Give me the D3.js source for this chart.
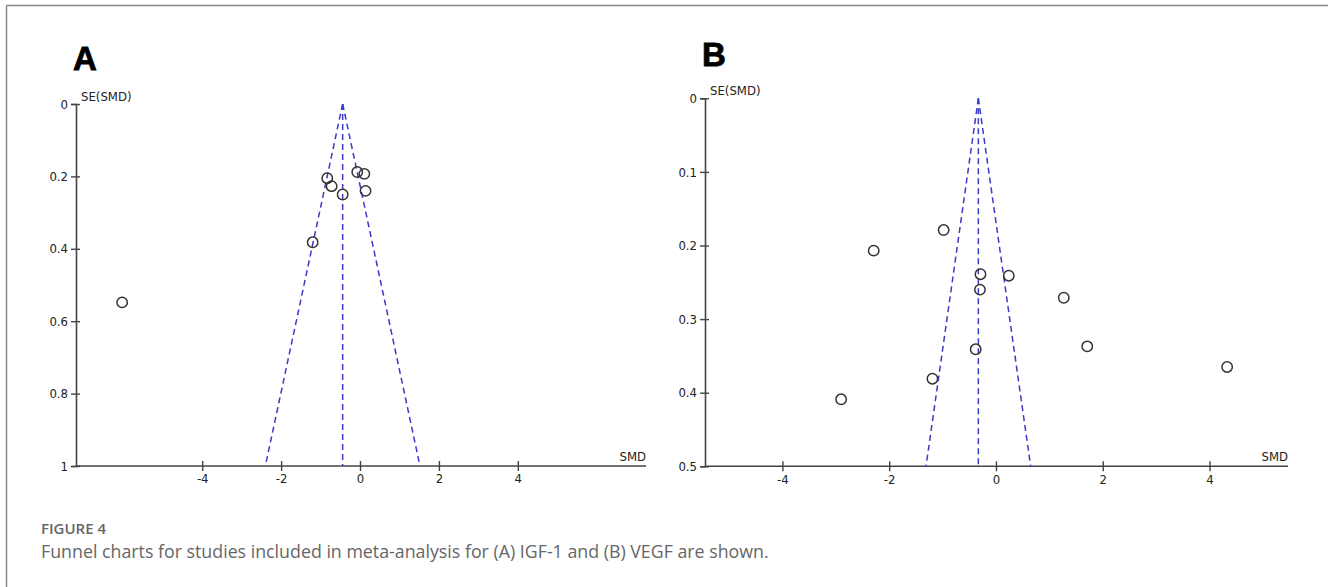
<!DOCTYPE html>
<html>
<head>
<meta charset="utf-8">
<script src="https://cdn.jsdelivr.net/npm/d3@7"></script>
<style>
  body { margin: 0; background: #fff; }
  svg text { font-family: "DejaVu Sans Condensed", "Open Sans", sans-serif; }
</style>
</head>
<body>
<svg id="fig" width="1328" height="587"></svg>
<script>
// Panel A (IGF-1)
const smdA = [-0.83, -0.72, -0.44, -0.07, 0.11, 0.14, -1.2, -6.03];
const seA  = [0.205, 0.227, 0.25, 0.188, 0.193, 0.24, 0.382, 0.548];
const pooledA = -0.44;
const xTicksA = [-4, -2, 0, 2, 4];
const yTicksA = [0, 0.2, 0.4, 0.6, 0.8, 1];

// Panel B (VEGF)
const smdB = [-0.98, -2.29, -0.29, 0.24, -0.30, 1.27, 1.71, -0.38, -1.19, -2.90, 4.33];
const seB  = [0.179, 0.207, 0.239, 0.241, 0.26, 0.271, 0.337, 0.341, 0.381, 0.409, 0.365];
const pooledB = -0.33;
const xTicksB = [-4, -2, 0, 2, 4];
const yTicksB = [0, 0.1, 0.2, 0.3, 0.4, 0.5];

const svg = d3.select("#fig");

// frame lines (top + left)
svg.append("line").attr("x1", 6.5).attr("y1", 5.5).attr("x2", 1328).attr("y2", 5.5)
  .attr("stroke", "#888").attr("stroke-width", 1.5);
svg.append("line").attr("x1", 6.5).attr("y1", 5.5).attr("x2", 6.5).attr("y2", 587)
  .attr("stroke", "#888").attr("stroke-width", 1.5);

function funnel(opt) {
  const x = d3.scaleLinear().domain(opt.xDomain).range([opt.left, opt.right]);
  const y = d3.scaleLinear().domain([0, opt.seMax]).range([opt.top, opt.bottom]);
  const g = svg.append("g");

  // panel letter
  g.append("text").attr("x", opt.letterX).attr("y", opt.letterY)
    .style("font-family", "'Liberation Sans', Arial, sans-serif")
    .style("font-weight", "bold").style("font-size", "33px")
    .attr("stroke", "#000").attr("stroke-width", 0.8)
    .text(opt.letter);

  // y axis
  const yAxis = g.append("g").attr("transform", `translate(${opt.left},0)`)
    .call(d3.axisLeft(y).tickValues(opt.yTicks).tickSize(5).tickPadding(3)
      .tickFormat(d3.format("~g")));
  yAxis.select(".domain").attr("stroke", "#444").attr("stroke-width", 1.6);
  yAxis.selectAll(".tick line").attr("x1", 4).attr("stroke", "#444").attr("stroke-width", 1.4);
  yAxis.selectAll(".tick text").style("font-size", "13px").attr("fill", "#222");

  // x axis
  const xAxis = g.append("g").attr("transform", `translate(0,${opt.bottom})`)
    .call(d3.axisBottom(x).tickValues(opt.xTicks).tickSize(5).tickPadding(3)
      .tickFormat(d => d < 0 ? "-" + Math.abs(d) : d));
  xAxis.select(".domain").attr("d", `M${opt.left},0H${opt.right}`)
    .attr("stroke", "#444").attr("stroke-width", 1.6);
  xAxis.selectAll(".tick line").attr("y1", -5).attr("stroke", "#444").attr("stroke-width", 1.4);
  xAxis.selectAll(".tick text").style("font-size", "13px").attr("fill", "#222");

  // axis titles
  g.append("text").attr("x", opt.left + 5).attr("y", opt.top - 3)
    .style("font-size", "13px").attr("fill", "#222").text("SE(SMD)");
  g.append("text").attr("x", opt.right).attr("y", opt.bottom - 5)
    .attr("text-anchor", "end").style("font-size", "13px").attr("fill", "#222").text("SMD");

  // funnel lines
  const dash = { stroke: "#3a3ac8", "stroke-width": 1.5, "stroke-dasharray": "6,4", fill: "none" };
  const lines = [
    [[opt.pooled, 0], [opt.pooled, opt.seMax]],
    [[opt.pooled, 0], [opt.pooled - 1.96 * opt.seMax, opt.seMax]],
    [[opt.pooled, 0], [opt.pooled + 1.96 * opt.seMax, opt.seMax]]
  ];
  const line = d3.line().x(d => x(d[0])).y(d => y(d[1]));
  lines.forEach(l => {
    const p = g.append("path").attr("d", line(l));
    Object.entries(dash).forEach(([k, v]) => p.attr(k, v));
  });

  // studies
  g.selectAll("circle.study").data(opt.smd).enter().append("circle")
    .attr("class", "study")
    .attr("cx", d => x(d))
    .attr("cy", (d, i) => y(opt.se[i]))
    .attr("r", 5.2)
    .attr("fill", "none").attr("stroke", "#333").attr("stroke-width", 1.5);
}

funnel({ letter: "A", letterX: 73, letterY: 70,
  smd: smdA, se: seA, pooled: pooledA, seMax: 1,
  xDomain: [-7.2, 7.25], xTicks: xTicksA, yTicks: yTicksA,
  left: 76, right: 646, top: 104, bottom: 466 });

funnel({ letter: "B", letterX: 702, letterY: 66,
  smd: smdB, se: seB, pooled: pooledB, seMax: 0.5,
  xDomain: [-5.45, 5.47], xTicks: xTicksB, yTicks: yTicksB,
  left: 705, right: 1288, top: 98.3, bottom: 466.3 });

// caption
svg.append("text").attr("x", 41).attr("y", 534)
  .style("font-family", "'Open Sans', sans-serif").style("font-size", "15px")
  .style("font-weight", "600").attr("fill", "#666").text("FIGURE 4");
svg.append("text").attr("x", 41).attr("y", 558)
  .style("font-family", "'Open Sans', sans-serif").style("font-size", "17.8px")
  .attr("fill", "#666")
  .text("Funnel charts for studies included in meta-analysis for (A) IGF-1 and (B) VEGF are shown.");
</script>
</body>
</html>
